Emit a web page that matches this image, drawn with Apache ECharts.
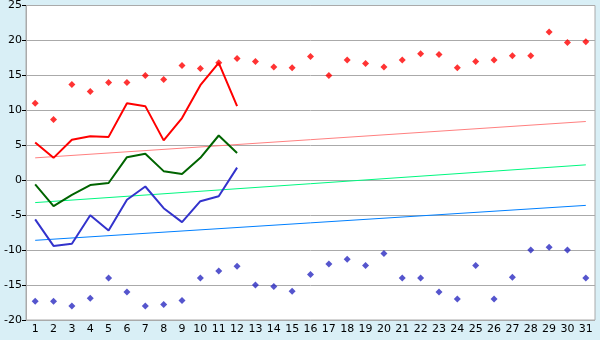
<!DOCTYPE html>
<html><head><meta charset="utf-8">
<script src="https://cdn.jsdelivr.net/npm/echarts@6/dist/echarts.min.js"></script>
<style>html,body{margin:0;padding:0;background:#d9eff6}#c{width:600px;height:340px}</style>
</head><body><div id="c"></div>
<script>
const days = ['1','2','3','4','5','6','7','8','9','10','11','12','13','14','15','16','17','18','19','20','21','22','23','24','25','26','27','28','29','30','31'];
const yTicks = [-20,-15,-10,-5,0,5,10,15,20,25];
const redDots = [11,8.7,13.7,12.7,14,14,15,14.4,16.4,16,16.8,17.4,17,16.2,16.1,17.7,15,17.2,16.7,16.2,17.2,18.1,18,16.1,17,17.2,17.8,17.8,21.2,19.7,19.8];
const blueDots = [-17.3,-17.3,-18,-16.9,-14,-16,-18,-17.8,-17.2,-14,-13,-12.3,-15,-15.2,-15.9,-13.5,-12,-11.3,-12.2,-10.5,-14,-14,-16,-17,-12.2,-17,-13.9,-10,-9.6,-10,-14];
const redLine = [5.4,3.2,5.8,6.3,6.2,11,10.6,5.7,8.9,13.6,16.8,10.6];
const greenLine = [-0.6,-3.7,-2.1,-0.7,-0.4,3.3,3.8,1.3,0.9,3.2,6.4,3.9];
const blueLine = [-5.6,-9.4,-9.1,-5.0,-7.2,-2.8,-0.9,-4.0,-6.0,-3.0,-2.3,1.8];
const trendDays = ['1','31'];
const redTrend = [3.2,8.4];
const greenTrend = [-3.2,2.2];
const blueTrend = [-8.6,-3.6];

const pair = (xs, ys) => xs.map((x,i)=>[x, ys[i]]);
const chart = echarts.init(document.getElementById('c'), null, {renderer:'canvas'});
const font = {fontFamily:'DejaVu Sans', fontSize:11, color:'#000'};
chart.setOption({
  animation:false,
  backgroundColor:'#d9eff6',
  grid:{left:26,right:5,top:5,bottom:20,show:true,backgroundColor:'#fff',borderColor:'#aaaaaa',borderWidth:1},
  xAxis:{type:'category',data:days,boundaryGap:true,
    axisLine:{lineStyle:{color:'#aaaaaa'}},
    axisTick:{alignWithLabel:true,length:5,lineStyle:{color:'#000'}},
    axisLabel:Object.assign({margin:4,interval:0},font),
    splitLine:{show:false}},
  yAxis:{type:'value',min:yTicks[0],max:yTicks[yTicks.length-1],interval:5,
    axisLine:{show:true,lineStyle:{color:'#aaaaaa'}},
    axisTick:{show:true,length:4,lineStyle:{color:'#000'}},
    axisLabel:Object.assign({margin:4},font),
    splitLine:{lineStyle:{color:'#aaaaaa',width:1}}},
  series:[
    {type:'line',data:pair(trendDays,redTrend),symbol:'none',lineStyle:{color:'#ff8080',width:1},z:2},
    {type:'line',data:pair(trendDays,greenTrend),symbol:'none',lineStyle:{color:'#00f880',width:1},z:2},
    {type:'line',data:pair(trendDays,blueTrend),symbol:'none',lineStyle:{color:'#0080ff',width:1},z:2},
    {type:'line',data:redLine,symbol:'none',lineStyle:{color:'#ff0000',width:2},z:3},
    {type:'line',data:greenLine,symbol:'none',lineStyle:{color:'#006400',width:2},z:3},
    {type:'line',data:blueLine,symbol:'none',lineStyle:{color:'#3333cc',width:2},z:3},
    {type:'scatter',data:redDots,symbol:'diamond',symbolSize:[7,7],itemStyle:{color:'#ff0000'},z:4},
    {type:'scatter',data:blueDots,symbol:'diamond',symbolSize:[7,7],itemStyle:{color:'#2a2ac0'},z:4}
  ]
});
</script></body></html>
